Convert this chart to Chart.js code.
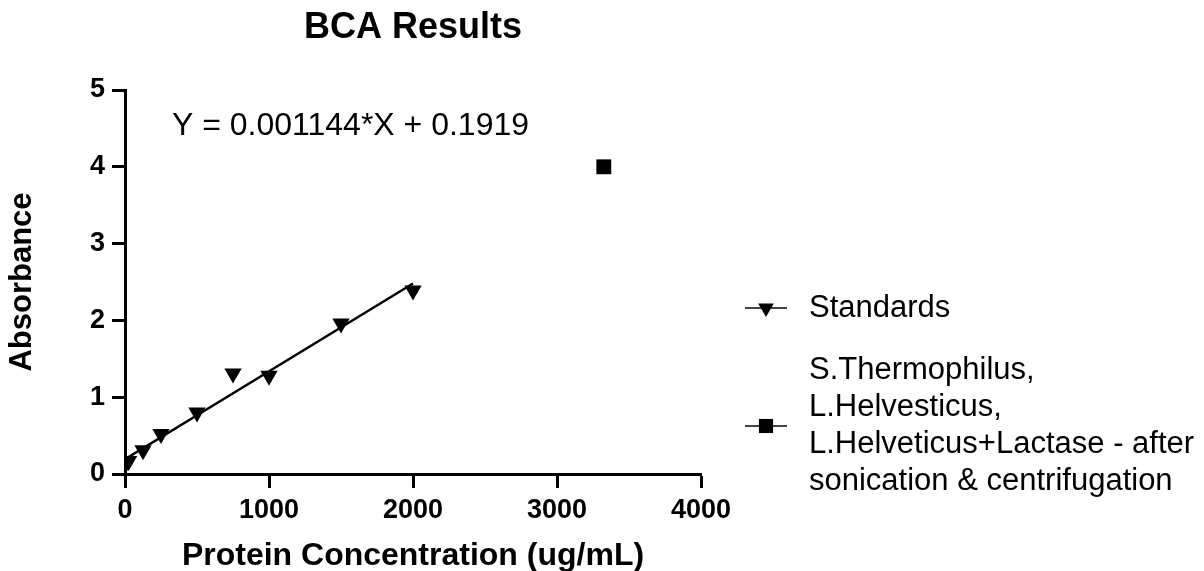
<!DOCTYPE html>
<html>
<head>
<meta charset="utf-8">
<title>BCA Results</title>
<script src="https://cdn.jsdelivr.net/npm/chart.js@4"></script>
<style>
  html, body { margin: 0; padding: 0; background: #fff; }
  #wrap { width: 1204px; height: 571px; position: relative; }
</style>
</head>
<body>
<div id="wrap"><canvas id="bcaChart"></canvas></div>
<script>
// standards (BSA) concentrations and their absorbance
const standardConc = [0, 25, 125, 250, 500, 750, 1000, 1500, 2000];
const standardAbs = [0.12, 0.17, 0.31, 0.52, 0.80, 1.31, 1.28, 1.96, 2.39];

// sample reading
const sampleConc = [3325];
const sampleAbs = [4.0];

// linear fit of the standards
const fitSlope = 0.001144;
const fitIntercept = 0.1919;
const fitRange = [0, 2000];

const xTicks = [0, 1000, 2000, 3000, 4000];
const yTicks = [0, 1, 2, 3, 4, 5];

const legendLabels = [
    ['Standards'],
    ['S.Thermophilus,', 'L.Helvesticus,', 'L.Helveticus+Lactase - after', 'sonication & centrifugation']
];
const fitLabel = 'Y = ' + fitSlope + '*X + ' + fitIntercept;

const FONT = '"Liberation Sans", Arial, sans-serif';

document.addEventListener('DOMContentLoaded', function () {
    const canvas = document.getElementById('bcaChart');
    const ctx = canvas.getContext('2d');

    const fitPoints = fitRange.map(x => ({ x: x, y: fitSlope * x + fitIntercept }));

    // equation text + side legend (multi-line label, so drawn by hand)
    const extras = {
        id: 'extras',
        afterDraw(chart) {
            const c = chart.ctx;
            c.save();
            c.fillStyle = '#000';
            c.font = '32px ' + FONT;
            c.textBaseline = 'middle';
            c.textAlign = 'left';
            c.fillText(fitLabel, 172, 126);

            c.font = '31px ' + FONT;
            const items = [
                { style: 'triangle', rotation: 180, radius: 9, y: 308 },
                { style: 'rect', rotation: 0, radius: 10, y: 426 }
            ];
            items.forEach((it, i) => {
                c.strokeStyle = '#444';
                c.lineWidth = 2;
                c.beginPath();
                c.moveTo(745, it.y);
                c.lineTo(787, it.y);
                c.stroke();
                c.fillStyle = '#000';
                Chart.helpers.drawPoint(c, { pointStyle: it.style, rotation: it.rotation, radius: it.radius, borderWidth: 0 }, 766, it.y);
                c.fillStyle = '#000';
                const lines = legendLabels[i];
                const lh = 37;
                const top = it.y - (lines.length - 1) * lh / 2;
                lines.forEach((t, j) => c.fillText(t, 809, top + j * lh));
            });
            c.restore();
        }
    };

    new Chart(ctx, {
        type: 'scatter',
        data: {
            datasets: [{
                label: 'Standards',
                data: standardConc.map((x, i) => ({ x: x, y: standardAbs[i] })),
                pointStyle: 'triangle',
                rotation: 180,
                pointRadius: 10,
                backgroundColor: '#000',
                borderColor: '#000',
                borderWidth: 0
            }, {
                label: 'Fit',
                data: fitPoints,
                showLine: true,
                pointRadius: 0,
                borderColor: '#000',
                borderWidth: 2.5
            }, {
                label: 'Samples',
                data: sampleConc.map((x, i) => ({ x: x, y: sampleAbs[i] })),
                pointStyle: 'rect',
                pointRadius: 10.5,
                backgroundColor: '#000',
                borderColor: '#000',
                borderWidth: 0
            }]
        },
        options: {
            responsive: true,
            maintainAspectRatio: false,
            animation: false,
            layout: { padding: { top: 0, right: 503, bottom: 0, left: 0 } },
            plugins: {
                legend: { display: false },
                tooltip: { enabled: false },
                title: {
                    display: true,
                    text: 'BCA Results',
                    fullSize: false,
                    color: '#000',
                    font: { family: FONT, size: 36, weight: 'bold' },
                    padding: { top: 6, bottom: 40.8 }
                }
            },
            scales: {
                x: {
                    type: 'linear',
                    min: 0,
                    max: 4000,
                    afterBuildTicks: s => { s.ticks = xTicks.map(v => ({ value: v })); },
                    afterFit: s => { s.height = 97; },
                    border: { display: true, color: '#000', width: 3 },
                    grid: { drawOnChartArea: false, drawTicks: true, tickLength: 14, tickColor: '#000', tickWidth: 3 },
                    ticks: {
                        color: '#000',
                        padding: 6,
                        maxRotation: 0,
                        font: { family: FONT, size: 27, weight: 'bold' },
                        callback: v => String(v)
                    },
                    title: {
                        display: true,
                        text: 'Protein Concentration (ug/mL)',
                        color: '#000',
                        padding: { top: 0, bottom: -4 },
                        font: { family: FONT, size: 32, weight: 'bold' }
                    }
                },
                y: {
                    type: 'linear',
                    min: 0,
                    max: 5,
                    afterBuildTicks: s => { s.ticks = yTicks.map(v => ({ value: v })); },
                    afterFit: s => { s.width = 125; },
                    border: { display: true, color: '#000', width: 3 },
                    grid: { drawOnChartArea: false, drawTicks: true, tickLength: 13, tickColor: '#000', tickWidth: 3 },
                    ticks: { color: '#000', padding: 7, font: { family: FONT, size: 27, weight: 'bold' } },
                    title: {
                        display: true,
                        text: 'Absorbance',
                        color: '#000',
                        padding: { top: 4, bottom: 4 },
                        font: { family: FONT, size: 31, weight: 'bold' }
                    }
                }
            }
        },
        plugins: [extras]
    });
});
</script>
</body>
</html>
